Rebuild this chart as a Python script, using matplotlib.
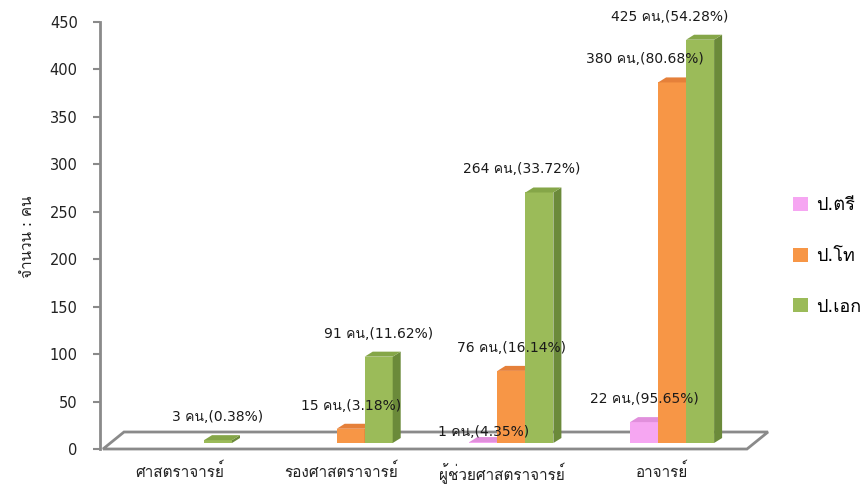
import matplotlib
matplotlib.use('Agg')
import matplotlib.pyplot as plt
from matplotlib.patches import Polygon
from matplotlib import font_manager
from matplotlib.ft2font import FT2Font

# ---- data ----
categories = ['ศาสตราจารย์', 'รองศาสตราจารย์', 'ผู้ช่วยศาสตราจารย์', 'อาจารย์']
series_names = ['ป.ตรี', 'ป.โท', 'ป.เอก']
bachelor = [0, 0, 1, 22]
master = [0, 15, 76, 380]
doctor = [3, 91, 264, 425]
bachelor_pct = [0, 0, 4.35, 95.65]
master_pct = [0, 3.18, 16.14, 80.68]
doctor_pct = [0.38, 11.62, 33.72, 54.28]
y_ticks = [0, 50, 100, 150, 200, 250, 300, 350, 400, 450]
y_label = 'จำนวน : คน'

# colours: front, top, side
colors = [('#f6a6f2', '#e18fdc', '#c77cc3'),
          ('#f79646', '#e5803a', '#c46f2e'),
          ('#9bbb59', '#85a648', '#6b8a3a')]


def find_thai_font():
    # look for any installed font that has Thai glyphs
    for f in font_manager.fontManager.ttflist:
        try:
            if 0x0E04 in FT2Font(f.fname).get_charmap():
                return f.name
        except Exception:
            pass
    return None


thai = find_thai_font()
# latin/digits from DejaVu, thai falls through to the thai font
plt.rcParams['font.family'] = ['DejaVu Sans'] + ([thai] if thai else [])

W, H = 863, 495
fig = plt.figure(figsize=(W / 100, H / 100), dpi=100)
ax_l, ax_r, ax_b, ax_t = 100, 765, 449, 22
ax = fig.add_axes([ax_l / W, 1 - ax_b / H, (ax_r - ax_l) / W, (ax_b - ax_t) / H])

unit_px = 160.7                      # pixels per category
xmin = -80 / unit_px
xmax = xmin + (ax_r - ax_l) / unit_px
ax.set_xlim(xmin, xmax)
ax.set_ylim(0, 450)
sx = 1 / unit_px                     # data per pixel, x
sy = 450 / (ax_b - ax_t)             # data per pixel, y

# floor
fdx, fdy = 21 * sx, 17 * sy
x_front_r = (747 - 180) / unit_px
floor = Polygon([(xmin + 3 * sx, 0), (x_front_r, 0), (x_front_r + fdx, fdy), (xmin + 3 * sx + fdx, fdy)],
                closed=True, facecolor='white', edgecolor='#8a8a8a', lw=2, zorder=1, clip_on=False)
ax.add_patch(floor)

# bars with fake 3d depth
bw = 28 * sx
bx, by = 10 * sx, 6 * sy             # bar base sits in middle of floor
ddx, ddy = 8 * sx, 5 * sy            # bar depth
all_vals = [bachelor, master, doctor]
all_pct = [bachelor_pct, master_pct, doctor_pct]
label_dx = {(2, 3): -30, (1, 3): -27, (2, 2): -18}
label_dy = {(0, 2): -13}

for s, (vals, pcts) in enumerate(zip(all_vals, all_pct)):
    front, top, side = colors[s]
    for i, v in enumerate(vals):
        if v == 0:
            continue
        x0 = i + (s - 1) * bw - bw / 2 + bx
        x1 = x0 + bw
        y0, y1 = by, v + by
        ax.add_patch(Polygon([(x0, y0), (x1, y0), (x1, y1), (x0, y1)], closed=True,
                             facecolor=front, edgecolor='none', zorder=3, clip_on=False))
        ax.add_patch(Polygon([(x1, y0), (x1 + ddx, y0 + ddy), (x1 + ddx, y1 + ddy), (x1, y1)], closed=True,
                             facecolor=side, edgecolor='none', zorder=3, clip_on=False))
        ax.add_patch(Polygon([(x0, y1), (x1, y1), (x1 + ddx, y1 + ddy), (x0 + ddx, y1 + ddy)], closed=True,
                             facecolor=top, edgecolor='none', zorder=3, clip_on=False))
        lx = (x0 + x1) / 2 + label_dx.get((s, i), 0) * sx
        ly = y1 + (23 + label_dy.get((s, i), 0)) * sy
        ax.text(lx, ly, f'{v} คน,({pcts[i]:.2f}%)', ha='center', va='center',
                fontsize=10, color='#1a1a1a', zorder=5, clip_on=False)

# legend handles
for s, name in enumerate(series_names):
    ax.bar([0], [0], color=colors[s][0], label=name, width=0)
ax.legend(loc='center left', bbox_to_anchor=(784 / W, 1 - 256 / H), bbox_transform=fig.transFigure,
          frameon=False, fontsize=13, handlelength=0.85, handleheight=0.85, handletextpad=0.45,
          labelspacing=1.8, borderpad=0)

# axes styling
for sp in ['top', 'right', 'bottom']:
    ax.spines[sp].set_visible(False)
ax.spines['left'].set_color('#8a8a8a')
ax.spines['left'].set_linewidth(2)
ax.set_yticks(y_ticks)
ax.tick_params(axis='y', length=5, width=1.5, color='#8a8a8a', labelsize=10.5, labelcolor='#222222', pad=11)
ax.set_xticks(range(len(categories)))
ax.set_xticklabels(categories, fontsize=11, color='#222222')
ax.tick_params(axis='x', length=0, pad=10)

fig.text(28 / W, 1 - 237 / H, y_label, rotation=90, ha='center', va='center', fontsize=11, color='#222222')

fig.savefig('out.png', dpi=100)
